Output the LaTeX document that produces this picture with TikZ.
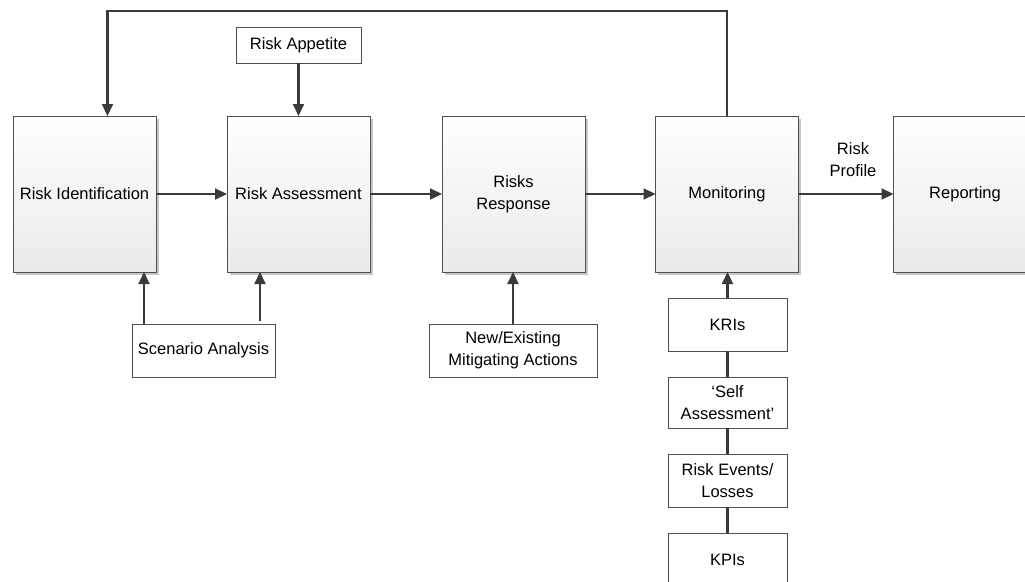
\documentclass[tikz,border=0pt]{standalone}
\usepackage{fontspec}
\setmainfont{Liberation Sans}
\usetikzlibrary{arrows.meta,shadows}
\definecolor{ln}{HTML}{3A3A3A}
\definecolor{bd}{HTML}{505050}
\tikzset{
  every node/.style={font=\fontsize{16.5}{22}\selectfont, text=black},
  mainbox/.style={draw=bd, line width=1pt, minimum width=143pt, minimum height=156pt, inner sep=0pt, outer sep=0pt,
     top color=white, bottom color=black!8, align=center,
     drop shadow={shadow xshift=2.5pt, shadow yshift=-2.5pt, fill=black!22, opacity=1}},
  smallbox/.style={draw=bd, line width=1pt, fill=white, inner sep=0pt, outer sep=0pt, align=center},
  arr/.style={draw=ln, line width=2.1pt, -{Triangle[length=12pt,width=11pt]}},
  ln/.style={draw=ln, line width=2.1pt}
}
\begin{document}
\begin{tikzpicture}[x=1pt,y=-1pt]
\useasboundingbox (0,0) rectangle (1025,581);
\clip (0,0) rectangle (1025,581);
\fill[white] (0,0) rectangle (1025,581);

\node[mainbox] (b1) at (84.5,194) {Risk Identification};
\node[mainbox] (b2) at (298.5,194) {Risk Assessment};
\node[mainbox] (b3) at (513.5,194) {Risks\\Response};
\node[mainbox] (b4) at (727,194) {Monitoring};
\node[mainbox] (b5) at (965,194) {Reporting};

\node[smallbox, minimum width=125pt, minimum height=36pt] (ra) at (298.5,45) {Risk Appetite};
\node[smallbox, minimum width=143pt, minimum height=53pt] (sa) at (203.5,350.5) {Scenario Analysis};
\node[smallbox, minimum width=168pt, minimum height=53pt] (na) at (513,350.5) {New/Existing\\Mitigating Actions};

\node[smallbox, minimum width=119pt, minimum height=53pt] (k1) at (727.5,324.5) {KRIs};
\node[smallbox, minimum width=119pt, minimum height=51pt] (k2) at (727.5,402.5) {`Self\\Assessment'};
\node[smallbox, minimum width=119pt, minimum height=53pt] (k3) at (727.5,480.5) {Risk Events/\\Losses};
\node[smallbox, minimum width=119pt, minimum height=53pt] (k4) at (727.5,559.5) {KPIs};

\node[align=center] (rp) at (853,160) {Risk\\Profile};

\coordinate (top) at (0,11);

\draw[arr] (b1) -- (b2);
\draw[arr] (b2) -- (b3);
\draw[arr] (b3) -- (b4);
\draw[arr] (b4) -- (b5);

\draw[arr] (b4.north) -- (b4.north |- top) -| ([xshift=23pt]b1.north);
\draw[arr] (ra.south) -- (b2.north);

\draw[arr] ([xshift=-59.5pt]sa.north) -- ([xshift=-59.5pt]sa.north |- b1.south);
\draw[arr] ([xshift=56.5pt,yshift=3pt]sa.north) -- ([xshift=56.5pt]sa.north |- b2.south);
\draw[arr] (na.north) -- (na.north |- b3.south);

\draw[arr] (k1.north) -- (k1.north |- b4.south);
\draw[ln] (k1) -- (k2);
\draw[ln] (k2) -- (k3);
\draw[ln] (k3) -- (k4);
\end{tikzpicture}
\end{document}
